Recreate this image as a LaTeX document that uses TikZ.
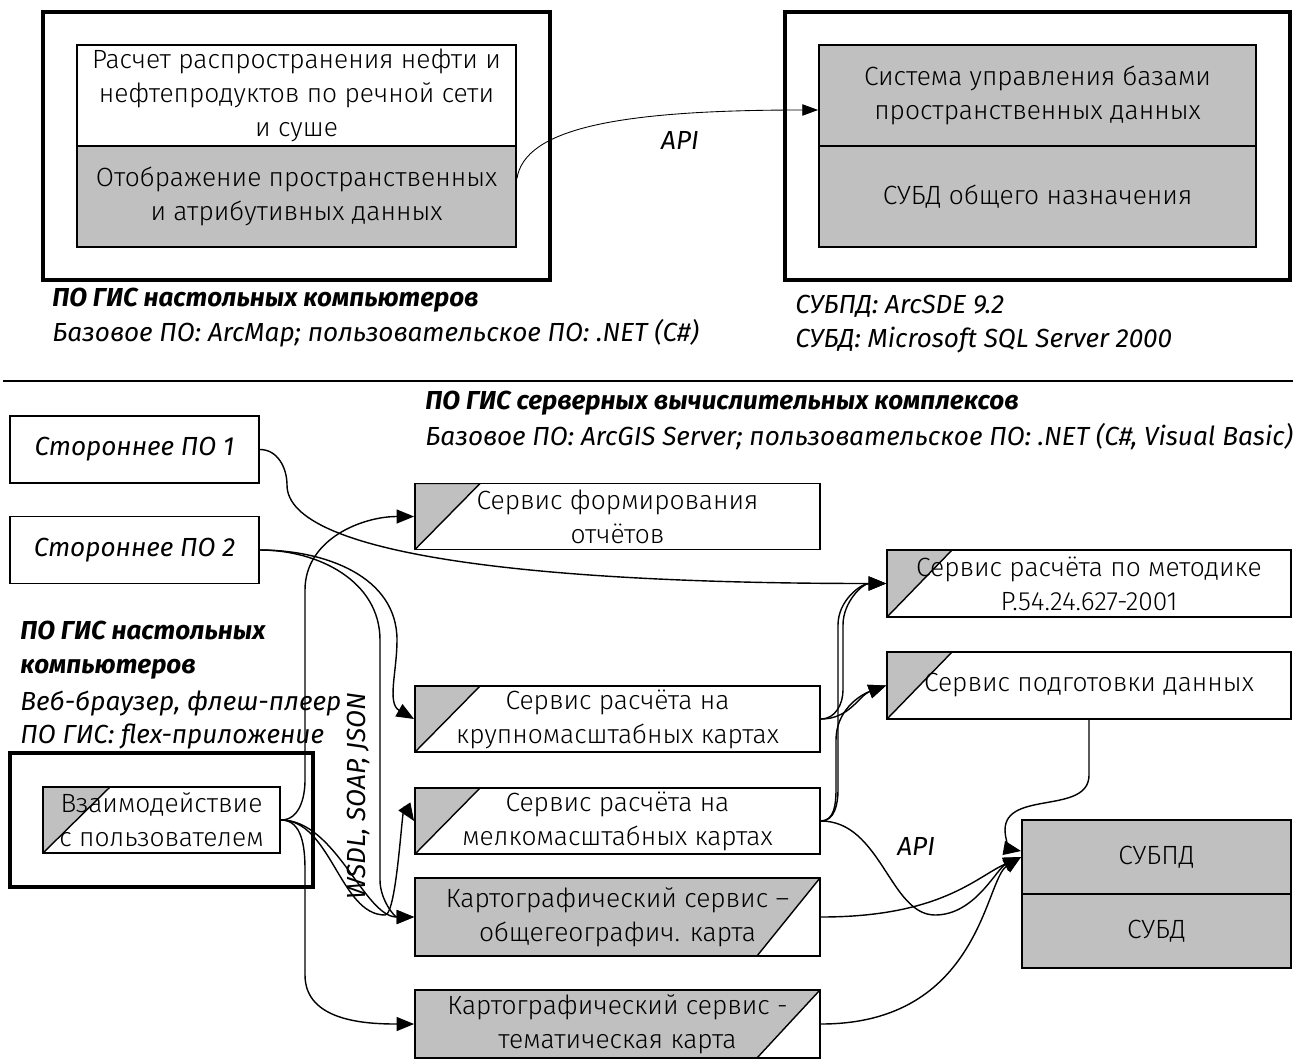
\documentclass[tikz,border=0pt]{standalone}
\usepackage{fontspec}
\setmainfont{Fira Sans}[UprightFont={* Light},ItalicFont={* Italic},BoldFont={* Bold},BoldItalicFont={* Bold Italic}]
\usepackage{tikz}
\usetikzlibrary{arrows.meta,shapes}
\definecolor{boxgray}{HTML}{C0C0C0}
\tikzset{box/.style={draw,rectangle,line width=1.1pt,inner sep=0pt,align=center,font=\fontsize{15}{19.3}\selectfont},
  frame/.style={draw,rectangle,line width=1.9pt,inner sep=0pt},
  svc/.style={box,minimum width=8.1cm,minimum height=1.32cm,
    path picture={\draw[fill=boxgray,line width=0.8pt] (path picture bounding box.north west) -- ++(1.3cm,0) -- (path picture bounding box.south west) -- cycle;}},
  cart/.style={box,fill=boxgray,minimum width=8.1cm,
    path picture={\draw[fill=white,line width=0.8pt] (path picture bounding box.north east) -- (path picture bounding box.south east) -- ++(-1.26cm,0) -- cycle;}},
  captext/.style={anchor=west,inner sep=0pt,align=left,font=\fontsize{14.9}{19.3}\selectfont\itshape},
  captextb/.style={captext,font=\fontsize{14.8}{19.3}\selectfont\bfseries\itshape},
  link/.style={->,line width=0.8pt}}

\begin{document}
\begin{tikzpicture}[x=0.02cm,y=-0.02cm,>={Triangle[length=10pt,width=8pt]}]
    \useasboundingbox (0,0) rectangle (1293,1061);

    % desktop GIS and database (top)
    \node[frame,minimum width=10.14cm,minimum height=5.36cm] (desk) at (296.5,146) {};
    \node[box,fill=white,minimum width=8.78cm,minimum height=2.02cm] (calcbox) at (296.5,95.5) {Расчет распространения нефти и\\нефтепродуктов по речной сети\\и суше};
    \node[box,fill=boxgray,minimum width=8.78cm,minimum height=2.02cm] (viewbox) at (296.5,196.5) {Отображение пространственных\\и атрибутивных данных};
    \node[frame,minimum width=10.1cm,minimum height=5.36cm] (dbframe) at (1037.5,146) {};
    \node[box,fill=boxgray,minimum width=8.74cm,minimum height=2.02cm] (sdbmsbox) at (1037.5,95.5) {Система управления базами\\пространственных данных};
    \node[box,fill=boxgray,minimum width=8.74cm,minimum height=2.02cm] (dbmsbox) at (1037.5,196.5) {СУБД общего назначения};

    \node[captextb] (capdesk) at (52,300) {ПО ГИС настольных компьютеров};
    \node[captext] (capdeskbase) at (52,333) {Базовое ПО: ArcMap; пользовательское ПО: .NET (C\#)};
    \node[captext] (capdb1) at (795,306) {СУБПД: ArcSDE 9.2};
    \node[captext] (capdb2) at (795,340) {СУБД: Microsoft SQL Server 2000};

    \draw[->,line width=0.5pt,>={Triangle[length=9pt,width=6.5pt]}] ([yshift=0.36cm]viewbox.east) .. controls +(8,-50) and +(-200,0) .. ([yshift=-0.29cm]sdbmsbox.west);
    \node[captext,anchor=center] (apitop) at (680,140) {API};

    \draw[line width=1.1pt] (3,381) -- (1293,381);

    % server GIS (bottom)
    \node[captextb] (capserv) at (425,403) {ПО ГИС серверных вычислительных комплексов};
    \node[captext] (capservbase) at (425,437) {Базовое ПО: ArcGIS Server; пользовательское ПО: .NET (C\#, Visual Basic)};

    \node[box,minimum width=4.98cm,minimum height=1.34cm,font=\fontsize{14.9}{19.3}\selectfont\itshape] (soft1) at (134.5,449.5) {Стороннее ПО 1};
    \node[box,minimum width=4.98cm,minimum height=1.34cm,font=\fontsize{14.9}{19.3}\selectfont\itshape] (soft2) at (134.5,550) {Стороннее ПО 2};

    \node[captextb] (capweb) at (20,650.5) {ПО ГИС настольных\\компьютеров};
    \node[captext] (capwebsw) at (20,720) {Веб-браузер, флеш-плеер\\ПО ГИС: flex-приложение};
    \node[frame,minimum width=6.06cm,minimum height=2.68cm] (webbox) at (161.5,820) {};
    \node[box,minimum width=4.74cm,minimum height=1.32cm,path picture={\draw[fill=boxgray,line width=0.8pt] (path picture bounding box.north west) -- ++(1.34cm,0) -- (path picture bounding box.south west) -- cycle;}] (ui) at (161.5,820) {Взаимодействие\\с пользователем};

    \node[svc] (report) at (617.5,516.5) {Сервис формирования\\отчётов};
    \node[svc] (large) at (617.5,719) {Сервис расчёта на\\крупномасштабных картах};
    \node[svc] (small) at (617.5,821) {Сервис расчёта на\\мелкомасштабных картах};
    \node[cart,minimum height=1.56cm] (general) at (617.5,917) {Картографический сервис –\\общегеографич. карта};
    \node[cart,minimum height=1.36cm] (theme) at (617.5,1024) {Картографический сервис -\\тематическая карта};

    \node[svc,minimum width=8.08cm,minimum height=1.34cm] (method) at (1089,583.5) {Сервис расчёта по методике\\Р.54.24.627-2001};
    \node[svc,minimum width=8.08cm,minimum height=1.34cm] (prep) at (1089,685.5) {Сервис подготовки данных};
    \node[box,fill=boxgray,minimum width=5.38cm,minimum height=1.48cm] (sdb) at (1156.5,857) {СУБПД};
    \node[box,fill=boxgray,minimum width=5.38cm,minimum height=1.48cm] (db) at (1156.5,931) {СУБД};

    \node[captext,anchor=center,rotate=90] (proto) at (358,796) {WSDL, SOAP, JSON};
    \node[captext] (apibot) at (897,846) {API};

    \draw[link] (soft1.east) to[out=0,in=90] (287,485) .. controls +(0,70) and +(-350,0) .. (method.west);
    \draw[link] (soft2.east) to[out=0,in=90] (397,640) to[out=-90,in=150] (large.west);
    \draw[link] (soft2.east) to[out=0,in=90] (380,640) -- (380,880) to[out=-90,in=180] (general.west);

    \draw[link] (ui.east) to[out=0,in=-90] (305,780) -- (305,590) to[out=90,in=180] (report.west);
    \draw[link] (ui.east) .. controls +(50,0) and +(-45,0) .. (385,915) .. controls +(12,0) and +(-12,-18) .. (small.west);
    \draw[link] (ui.east) .. controls +(55,0) and +(-50,0) .. (general.west);
    \draw[link] (ui.east) to[out=0,in=90] (305,870) -- (305,975) to[out=-90,in=180] (theme.west);

    \draw[link] (large.east) to[out=0,in=-90] (843,690) -- (843,625) to[out=90,in=180] (method.west);
    \draw[link] (large.east) to[out=0,in=200] (prep.west);
    \draw[link] (small.east) to[out=0,in=-90] (838,790) -- (838,625) to[out=90,in=180] (method.west);
    \draw[link] (small.east) to[out=0,in=-90] (836,790) -- (836,740) to[out=90,in=200] (prep.west);
    \draw[link] (small.east) .. controls +(60,0) and +(-45,0) .. (935,915) .. controls +(40,0) and +(-25,12) .. (sdb.west);
    \draw[link] (general.east) .. controls +(120,0) and +(-45,20) .. (sdb.west);
    \draw[link] (theme.east) .. controls (980,1024) and (985,880) .. (sdb.west);
    \draw[link] (prep.south) -- (1089,775) .. controls (1089,815) and (1005,790) .. (1005,830) to[out=-90,in=170] ([yshift=0.12cm]sdb.west);
\end{tikzpicture}
\end{document}
